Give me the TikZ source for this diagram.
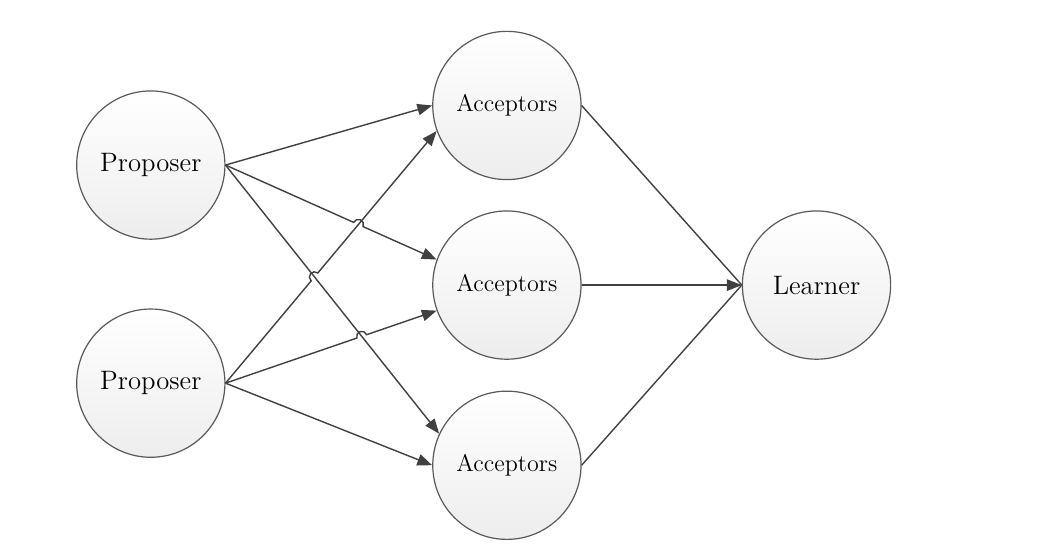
\documentclass[tikz,border=0pt]{standalone}
\usetikzlibrary{calc,arrows.meta}
\begin{document}
\begin{tikzpicture}[font=\small,
  agent/.style={circle,draw=black!65,line width=0.6pt,minimum size=2.6cm,inner sep=0pt,
    top color=white,bottom color=black!7},
  big/.style={font=\fontsize{13.3}{16}\selectfont},
  mid/.style={font=\fontsize{12}{14}\selectfont},
  link/.style={draw=black!75,line width=0.7pt},
  tip/.style={-{Triangle[length=2.6mm,width=2mm]}}]
\useasboundingbox (-8.89,-4.65) rectangle (9.42,5.0);
\def\hop{0.09cm}

\node[agent,big] (p1) at (-6.245,2.105) {Proposer};
\node[agent,big] (p2) at (-6.245,-1.72) {Proposer};
\node[agent,mid] (a1) at (0,3.15) {Acceptors};
\node[agent,mid] (a2) at (0,0) {Acceptors};
\node[agent,mid] (a3) at (0,-3.16) {Acceptors};
\node[agent,big] (l) at (5.43,0) {Learner};

\coordinate (x1) at (intersection of p1.east--a2.160 and p2.east--a1.200);
\coordinate (x2) at (intersection of p2.east--a1.200 and p1.east--a3.155);
\coordinate (x3) at (intersection of p2.east--a2.200 and p1.east--a3.155);

\draw[link,tip] (p1.east) -- (a1.180);
\draw[link,tip] let \p1=($(a2.160)-(p1.east)$), \n1={atan2(\y1,\x1)} in
  (p1.east) -- ($(x1)!\hop!(p1.east)$) arc[start angle=\n1+180,delta angle=-180,radius=\hop] -- (a2.160);
\draw[link,tip] (p1.east) -- (a3.155);
\draw[link,tip] let \p1=($(a1.200)-(p2.east)$), \n1={atan2(\y1,\x1)} in
  (p2.east) -- ($(x2)!\hop!(p2.east)$) arc[start angle=\n1+180,delta angle=-180,radius=\hop] -- (a1.200);
\draw[link,tip] let \p1=($(a2.200)-(p2.east)$), \n1={atan2(\y1,\x1)} in
  (p2.east) -- ($(x3)!\hop!(p2.east)$) arc[start angle=\n1+180,delta angle=-180,radius=\hop] -- (a2.200);
\draw[link,tip] (p2.east) -- (a3.180);

\draw[link] (a1.east) -- (l.west);
\draw[link,tip] (a2.east) -- (l.west);
\draw[link] (a3.east) -- (l.west);

\end{tikzpicture}
\end{document}
